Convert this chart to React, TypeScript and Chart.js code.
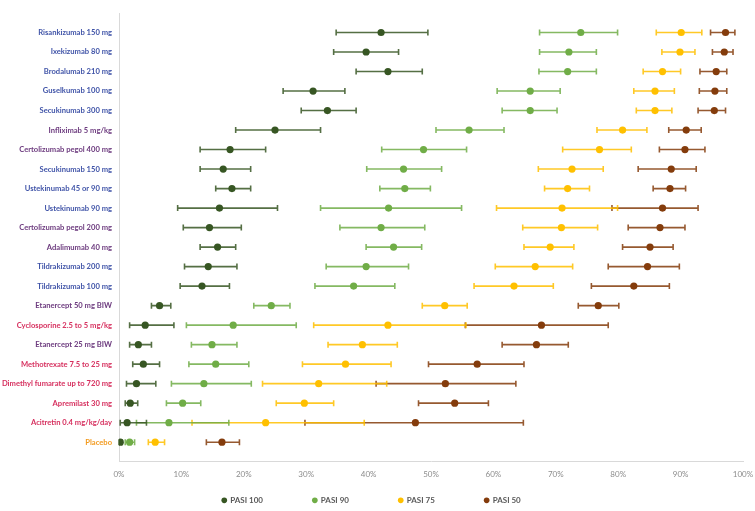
import React, { useEffect, useRef } from 'react';
import { Chart, registerables } from 'chart.js';

Chart.register(...registerables);

const categories = [
  'Risankizumab 150 mg',
  'Ixekizumab 80 mg',
  'Brodalumab 210 mg',
  'Guselkumab 100 mg',
  'Secukinumab 300 mg',
  'Infliximab 5 mg/kg',
  'Certolizumab pegol 400 mg',
  'Secukinumab 150 mg',
  'Ustekinumab 45 or 90 mg',
  'Ustekinumab 90 mg',
  'Certolizumab pegol 200 mg',
  'Adalimumab 40 mg',
  'Tildrakizumab 200 mg',
  'Tildrakizumab 100 mg',
  'Etanercept 50 mg BIW',
  'Cyclosporine 2.5 to 5 mg/kg',
  'Etanercept 25 mg BIW',
  'Methotrexate 7.5 to 25 mg',
  'Dimethyl fumarate up to 720 mg',
  'Apremilast 30 mg',
  'Acitretin 0.4 mg/kg/day',
  'Placebo',
];

const BLUE = '#4054A8';
const PURPLE = '#6C3A7E';
const RED = '#D62F5E';
const ORANGE = '#F29A1E';

const labelColors = [
  BLUE, BLUE, BLUE, BLUE, BLUE, PURPLE, PURPLE, BLUE, BLUE, BLUE, PURPLE,
  PURPLE, BLUE, BLUE, PURPLE, RED, PURPLE, RED, RED, RED, RED, ORANGE,
];

const pasi100 = [42.0, 39.6, 43.1, 31.1, 33.4, 25.0, 17.8, 16.7, 18.1, 16.1, 14.5, 15.8, 14.3, 13.3, 6.5, 4.2, 3.1, 3.9, 2.8, 1.8, 1.3, 0.2];
const pasi100Low = [34.8, 34.4, 38.0, 26.3, 29.2, 18.7, 13.0, 13.0, 15.5, 9.4, 10.3, 13.0, 10.5, 9.8, 5.2, 1.7, 1.7, 2.2, 1.2, 1.0, 0.2, 0.0];
const pasi100High = [49.5, 44.8, 48.6, 36.2, 38.0, 32.3, 23.5, 21.1, 21.1, 25.4, 19.6, 18.7, 18.9, 17.7, 8.3, 8.8, 5.2, 6.5, 5.9, 3.0, 4.4, 0.5];

const pasi90 = [74.0, 72.1, 71.9, 65.9, 65.9, 56.1, 48.8, 45.6, 45.8, 43.2, 42.0, 44.0, 39.6, 37.6, 24.4, 18.3, 14.9, 15.5, 13.6, 10.2, 8.0, 1.7];
const pasi90Low = [67.4, 67.4, 67.3, 60.6, 61.4, 50.8, 42.1, 39.7, 41.8, 32.3, 35.4, 39.6, 33.2, 31.4, 21.6, 10.8, 11.6, 11.2, 8.4, 7.6, 2.8, 1.0];
const pasi90High = [79.9, 76.5, 76.5, 70.7, 70.2, 61.7, 55.7, 51.7, 49.9, 54.9, 49.0, 48.5, 46.4, 44.2, 27.4, 28.4, 18.9, 20.8, 21.2, 13.1, 17.6, 2.5];

const pasi75 = [90.1, 89.9, 87.1, 85.9, 85.9, 80.7, 77.0, 72.6, 71.9, 71.0, 70.9, 69.1, 66.7, 63.3, 52.2, 43.1, 39.0, 36.3, 32.0, 29.7, 23.5, 5.8];
const pasi75Low = [86.1, 87.0, 84.0, 82.5, 82.9, 76.6, 71.1, 67.2, 68.2, 60.5, 64.7, 64.9, 60.3, 56.9, 48.6, 31.2, 33.5, 29.4, 23.0, 25.2, 11.7, 4.7];
const pasi75High = [93.4, 92.3, 90.0, 89.0, 88.6, 84.6, 82.1, 77.6, 75.4, 79.9, 76.7, 72.9, 72.7, 69.6, 55.8, 55.6, 44.6, 43.6, 42.9, 34.4, 39.3, 7.3];

const pasi50 = [97.2, 97.0, 95.7, 95.5, 95.4, 90.9, 90.7, 88.5, 88.3, 87.1, 86.7, 85.1, 84.7, 82.5, 76.8, 67.7, 66.9, 57.4, 52.3, 53.8, 47.5, 16.5];
const pasi50Low = [94.8, 95.1, 93.1, 93.0, 92.8, 88.1, 86.6, 83.2, 85.6, 79.0, 81.6, 80.7, 78.4, 75.7, 73.6, 55.5, 61.4, 49.6, 41.2, 48.0, 29.8, 14.0];
const pasi50High = [98.7, 98.4, 97.4, 97.4, 97.2, 93.3, 93.9, 92.5, 90.8, 92.8, 90.7, 88.8, 89.8, 88.2, 80.1, 78.4, 72.0, 64.9, 63.6, 59.2, 64.8, 19.3];

const seriesNames = ['PASI 100', 'PASI 90', 'PASI 75', 'PASI 50'];
const seriesColors = ['#375623', '#70AD47', '#FFC000', '#843C0C'];
const errorColors = ['rgba(55,86,35,0.85)', 'rgba(112,173,71,0.85)', 'rgba(255,192,0,0.85)', 'rgba(132,60,12,0.85)'];
const seriesValues = [pasi100, pasi90, pasi75, pasi50];
const seriesLow = [pasi100Low, pasi90Low, pasi75Low, pasi50Low];
const seriesHigh = [pasi100High, pasi90High, pasi75High, pasi50High];

const xMin = 0;
const xMax = 100;
const xStep = 10;
const legendGap = 21;

const errorBarPlugin = {
  id: 'errorBars',
  beforeDatasetDraw(chart: any, args: any) {
    const ds: any = chart.data.datasets[args.index];
    const meta = args.meta;
    const xs = chart.scales.x;
    const ctx = chart.ctx;
    const cap = 3;
    ctx.save();
    ctx.strokeStyle = ds.errorColor;
    ctx.lineWidth = 1.6;
    meta.data.forEach((pt: any, i: number) => {
      const y = pt.y;
      const x1 = xs.getPixelForValue(ds.errLow[i]);
      const x2 = xs.getPixelForValue(ds.errHigh[i]);
      ctx.beginPath();
      ctx.moveTo(x1, y);
      ctx.lineTo(x2, y);
      ctx.moveTo(x1, y - cap);
      ctx.lineTo(x1, y + cap);
      ctx.moveTo(x2, y - cap);
      ctx.lineTo(x2, y + cap);
      ctx.stroke();
    });
    ctx.restore();
  },
};

export default function App() {
  const canvasRef = useRef<HTMLCanvasElement | null>(null);

  useEffect(() => {
    const n = categories.length;
    const datasets = seriesNames.map((name, s) => ({
      type: 'scatter' as const,
      label: name,
      data: categories.map((_, i) => ({ x: seriesValues[s][i], y: n - i })),
      errLow: seriesLow[s],
      errHigh: seriesHigh[s],
      errorColor: errorColors[s],
      backgroundColor: seriesColors[s],
      borderColor: seriesColors[s],
      borderWidth: 0,
      pointRadius: 3.6,
      pointHoverRadius: 3.6,
      pointStyle: 'circle',
      showLine: false,
    }));

    const chart = new Chart(canvasRef.current as HTMLCanvasElement, {
      type: 'scatter',
      data: { datasets } as any,
      plugins: [errorBarPlugin],
      options: {
        animation: false,
        responsive: true,
        maintainAspectRatio: false,
        layout: { padding: { top: 13, right: 12, left: 0, bottom: -3.3 } },
        scales: {
          x: {
            type: 'linear',
            min: xMin,
            max: xMax,
            grid: { display: false, drawTicks: false },
            border: { display: true, color: '#D9D9D9', width: 1 },
            afterFit: (s: any) => {
              s.paddingRight = 0;
            },
            ticks: {
              stepSize: xStep,
              padding: 8,
              color: '#8C8C8C',
              font: { family: 'Lato', size: 8 },
              callback: (v: any) => `${v}%`,
            },
          },
          y: {
            type: 'linear',
            min: 0,
            max: categories.length + 1,
            grid: { display: false, drawTicks: false },
            border: { display: true, color: '#D9D9D9', width: 1 },
            afterFit: (s: any) => {
              s.width = 119;
            },
            afterBuildTicks: (s: any) => {
              s.ticks = categories.map((_, i) => ({ value: n - i }));
            },
            ticks: {
              autoSkip: false,
              padding: 7,
              font: { family: 'Lato', size: 7.6, weight: 'bold' },
              color: (c: any) => labelColors[n - c.tick.value] || '#000',
              callback: (v: any) => categories[n - v] ?? '',
            },
          },
        },
        plugins: {
          tooltip: { enabled: false },
          legend: {
            position: 'bottom',
            labels: {
              usePointStyle: true,
              boxWidth: 4,
              boxHeight: 4,
              padding: 9,
              color: '#595959',
              font: { family: 'Lato', size: 8, weight: 'bold' },
              generateLabels: (ch: any) => {
                const items = Chart.defaults.plugins.legend.labels.generateLabels(ch);
                items.forEach((it: any, i: number) => {
                  if (i < items.length - 1) it.text = it.text + '\u00A0'.repeat(legendGap);
                });
                return items;
              },
            },
          },
        },
      } as any,
    });
    return () => chart.destroy();
  }, []);

  return (
    <div style={{ position: 'fixed', left: 0, top: 0, width: 755, height: 511, background: '#fff' }}>
      <canvas ref={canvasRef} />
    </div>
  );
}
